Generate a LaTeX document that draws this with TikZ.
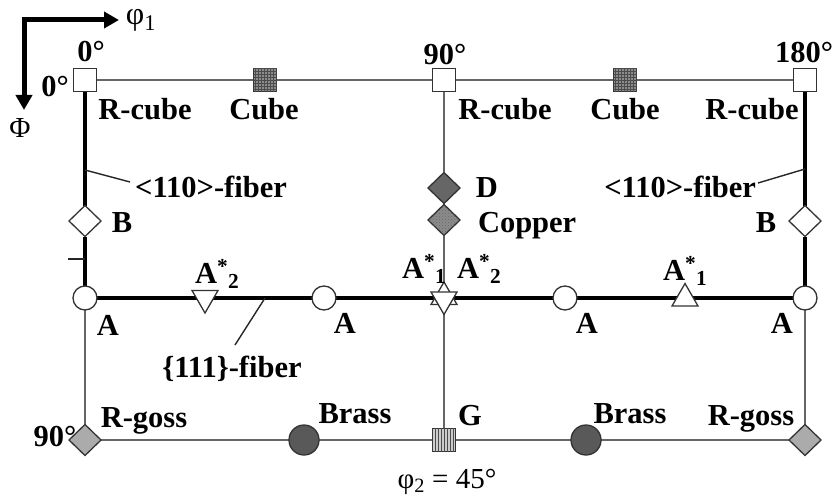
\documentclass[tikz,border=0pt]{standalone}
\usepackage{fontspec}
\setmainfont{Liberation Serif}
\usetikzlibrary{shapes.geometric,patterns,backgrounds,arrows.meta}
\begin{document}
\begin{tikzpicture}[x=1pt,y=-1pt,
  lab/.style={font=\bfseries\fontsize{30.5}{36}\selectfont, inner sep=0pt, outer sep=0pt},
  plainlab/.style={font=\fontsize{29}{34}\selectfont, inner sep=0pt, outer sep=0pt},
  mk/.style={draw=black!80, line width=1.3pt, inner sep=0pt, outer sep=0pt},
  sq/.style={mk, rectangle, minimum size=23pt, fill=white},
  cubesq/.style={sq, fill=black!45, postaction={pattern=grid, pattern color=black!70}},
  gsq/.style={sq, fill=black!20, postaction={pattern=vertical lines, pattern color=black!70}},
  dia/.style={mk, diamond, minimum width=32pt, minimum height=31pt, fill=white},
  ddia/.style={dia, fill=black!60},
  cudia/.style={dia, fill=black!45, postaction={pattern=crosshatch dots, pattern color=black!60}},
  rgdia/.style={dia, fill=black!33},
  circA/.style={mk, circle, minimum size=24pt, fill=white},
  brass/.style={mk, circle, minimum size=30pt, fill=black!65},
  triup/.style={mk, regular polygon, regular polygon sides=3, minimum size=30pt, fill=white},
  tridn/.style={triup, shape border rotate=180},
  thinln/.style={draw=black!60, line width=2pt},
  thickln/.style={draw=black, line width=4pt},
  leader/.style={draw=black!85, line width=1.4pt},
  axis/.style={draw=black, line width=5pt, line join=miter, {Triangle[length=15pt,width=16pt]}-{Triangle[length=15pt,width=16pt]}}
]
\path[use as bounding box] (0,0) rectangle (837,500);

% markers
\node[sq] (sq0) at (85,80) {};
\node[cubesq] (cu1) at (265,80) {};
\node[sq] (sq90) at (444,80) {};
\node[cubesq] (cu2) at (625,80) {};
\node[sq] (sq180) at (805,80) {};

\node[dia] (B1) at (85,221) {};
\node[ddia] (D) at (444,188) {};
\node[cudia] (Cu) at (444,220) {};
\node[dia] (B2) at (805,221) {};

\node[circA] (A1) at (85,298) {};
\node[tridn] (T1) at (205,298) {};
\node[circA] (A2) at (324,298) {};
\coordinate (Cc) at (444,298);
\node[triup] (Cup) at (444,297) {};
\node[tridn] (Cdn) at (444,299.5) {};
\node[circA] (A3) at (565,298) {};
\node[triup] (T2) at (685,298.5) {};
\node[circA] (A4) at (805,298) {};

\node[rgdia] (RG1) at (85,440) {};
\node[brass] (Br1) at (304,440) {};
\node[gsq] (G) at (444,440) {};
\node[brass] (Br2) at (586,440) {};
\node[rgdia] (RG2) at (805,440) {};

% coordinates for free ends
\coordinate (O) at (24,20);
\coordinate (X) at (119,20);
\coordinate (Y) at (24,110);
\coordinate (tk) at (85,259);
\coordinate (tk0) at (68,259);
\coordinate (f1a) at (85,170);
\coordinate (f1b) at (130,182);
\coordinate (f2a) at (805,169);
\coordinate (f2b) at (758,183);
\coordinate (f3a) at (265,298);
\coordinate (f3b) at (235,345);

\begin{pgfonlayer}{background}
  \fill[white] (0,0) rectangle (837,500);
  % thin lines
  \path[thinln] (sq0) -- (cu1) -- (sq90) -- (cu2) -- (sq180);
  \path[thinln] (sq90) -- (D);
  \path[thinln] (D) -- (Cu);
  \path[thinln] (Cu) -- (Cc);
  \path[thinln] (Cc) -- (G);
  \path[thinln] (A1) -- (RG1);
  \path[thinln] (A4) -- (RG2);
  \path[thinln] (RG1) -- (Br1) -- (G) -- (Br2) -- (RG2);
  % thick lines
  \path[thickln] (sq0) -- (B1) -- (A1);
  \path[thickln] (sq180) -- (B2) -- (A4);
  \path[thickln] (A1) -- (A2) -- (Cc) -- (A3) -- (A4);
\end{pgfonlayer}

% axes
\draw[axis] (X) -- (O) -- (Y);
\node[plainlab, font=\fontsize{32}{36}\selectfont] (phi1) at (141,20) {φ\textsubscript{1}};
\node[plainlab, font=\fontsize{29}{34}\selectfont] (Phi) at (20,128) {Φ};

% tick and leaders
\draw[leader] (tk0) -- (tk);
\draw[leader] (f1a) -- (f1b);
\draw[leader] (f2a) -- (f2b);
\draw[leader] (f3a) -- (f3b);

% angle labels
\node[lab, anchor=base] (d0t) at (91,62) {0°};
\node[lab, anchor=base] (d0l) at (55,97) {0°};
\node[lab, anchor=base] (d90t) at (445,65) {90°};
\node[lab, anchor=base] (d180) at (804,63) {180°};
\node[lab, anchor=base] (d90l) at (55,446) {90°};

% texture labels
\node[lab, anchor=base] (lrc1) at (145,119) {R-cube};
\node[lab, anchor=base] (lcu1) at (264,119) {Cube};
\node[lab, anchor=base] (lrc2) at (505,119) {R-cube};
\node[lab, anchor=base] (lcu2) at (625,119) {Cube};
\node[lab, anchor=base] (lrc3) at (752,119) {R-cube};

\node[lab, anchor=base] (lf1) at (211,197) {<110>-fiber};
\node[lab, anchor=base east] (lf2) at (756,197) {<110>-fiber};
\node[lab, anchor=base] (lB1) at (122,232) {B};
\node[lab, anchor=base] (lB2) at (766,232) {B};
\node[lab, anchor=base] (lD) at (487,197) {D};
\node[lab, anchor=base west] (lCu) at (478,232) {Copper};

\node[lab, anchor=base west] (lT1) at (195,283) {A\textsuperscript{*}\textsubscript{2}};
\node[lab, anchor=base west] (lC1) at (402,278) {A\textsuperscript{*}\textsubscript{1}};
\node[lab, anchor=base west] (lC2) at (457,278) {A\textsuperscript{*}\textsubscript{2}};
\node[lab, anchor=base west] (lT2) at (663,280) {A\textsuperscript{*}\textsubscript{1}};

\node[lab, anchor=base] (lA1) at (108,335) {A};
\node[lab, anchor=base] (lA2) at (345,333) {A};
\node[lab, anchor=base] (lA3) at (587,333) {A};
\node[lab, anchor=base] (lA4) at (782,333) {A};

\node[lab, anchor=base] (lf3) at (232,377) {\{111\}-fiber};

\node[lab, anchor=base] (lRG1) at (144,427) {R-goss};
\node[lab, anchor=base] (lBr1) at (355,423) {Brass};
\node[lab, anchor=base] (lG) at (470,425) {G};
\node[lab, anchor=base] (lBr2) at (630,423) {Brass};
\node[lab, anchor=base] (lRG2) at (751,425) {R-goss};

\node[plainlab, anchor=base] (lphi2) at (447,488) {φ\textsubscript{2} = 45°};
\end{tikzpicture}
\end{document}
